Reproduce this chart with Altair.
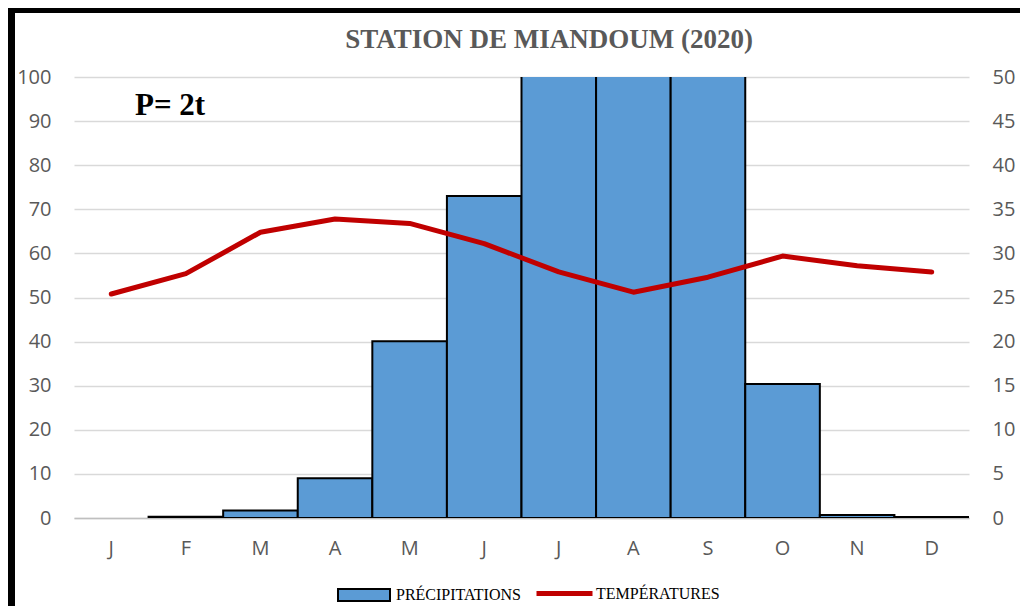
import altair as alt
import pandas as pd

# ---- data ----
mois = ["Janvier", "Février", "Mars", "Avril", "Mai", "Juin", "Juillet",
        "Août", "Septembre", "Octobre", "Novembre", "Décembre"]
precipitations = [0, 0.3, 1.7, 9.0, 40.1, 73.0, 180, 250, 160, 30.4, 0.7, 0.2]
temperatures = [25.4, 27.7, 32.4, 33.9, 33.4, 31.1, 27.9, 25.6, 27.3, 29.7, 28.6, 27.9]
titre = "STATION DE MIANDOUM (2020)"
annotation = "P= 2t"
serie_p = "PRÉCIPITATIONS"
serie_t = "TEMPÉRATURES"
ticks_p = list(range(0, 101, 10))
ticks_t = list(range(0, 51, 5))

df = pd.DataFrame({"mois": mois, "P": precipitations, "T": temperatures,
                   "sp": [serie_p] * 12, "st": [serie_t] * 12})

GRAY = "#595959"
AXFONT = "Open Sans"
SERIF = "Liberation Serif"

x_enc = alt.X(
    "mois:N", sort=mois,
    scale=alt.Scale(paddingInner=0, paddingOuter=0),
    axis=alt.Axis(title=None, labelExpr="substring(datum.label, 0, 1)", labelAngle=0,
                  ticks=False, domain=True, domainColor="#BFBFBF", domainWidth=1.5,
                  grid=False, labelPadding=20, labelFont=AXFONT, labelFontSize=20,
                  labelColor=GRAY),
)

bars = alt.Chart(df).transform_filter("datum.P > 0").mark_bar(
    stroke="black", strokeWidth=2, clip=True
).encode(
    x=x_enc,
    y=alt.Y("P:Q", scale=alt.Scale(domain=[0, 100], nice=False),
            axis=alt.Axis(title=None, values=ticks_p, orient="left", grid=True,
                          gridColor="#D9D9D9", gridWidth=1.3, domain=False, ticks=False,
                          labelPadding=23, labelFont=AXFONT, labelFontSize=20,
                          labelColor=GRAY)),
    fill=alt.Fill("sp:N", scale=alt.Scale(range=["#5B9BD5"]),
                  legend=alt.Legend(title=None, orient="none", legendX=263, legendY=491,
                                    symbolType="M-1,-0.23H1V0.23H-1Z", symbolSize=2704,
                                    symbolStrokeColor="black", symbolStrokeWidth=2,
                                    labelFont=SERIF, labelFontSize=16, labelColor="black",
                                    labelOffset=5, padding=0)),
)

line = alt.Chart(df).mark_line(strokeWidth=5, strokeCap="round", strokeJoin="round").encode(
    x=x_enc,
    y=alt.Y("T:Q", scale=alt.Scale(domain=[0, 50], nice=False),
            axis=alt.Axis(title=None, values=ticks_t, orient="right", grid=False,
                          domain=False, ticks=False, labelPadding=23, labelFont=AXFONT,
                          labelFontSize=20, labelColor=GRAY)),
    stroke=alt.Stroke("st:N", scale=alt.Scale(range=["#C00000"]),
                      legend=alt.Legend(title=None, orient="none", legendX=460, legendY=486,
                                        symbolType="stroke", symbolSize=3136,
                                        symbolStrokeWidth=5,
                                        labelFont=SERIF, labelFontSize=16,
                                        labelColor="black", labelOffset=1, padding=0)),
)

tdf = pd.DataFrame({"t": [titre], "a": [annotation]})
title_mark = alt.Chart(tdf).mark_text(
    font=SERIF, fontSize=27, fontWeight="bold", color=GRAY, align="center",
    baseline="alphabetic"
).encode(text="t:N", x=alt.value(475), y=alt.value(-29))

annot_mark = alt.Chart(tdf).mark_text(
    font=SERIF, fontSize=31, fontWeight="bold", color="black", align="left",
    baseline="alphabetic"
).encode(text="a:N", x=alt.value(61), y=alt.value(38))

bdf = pd.DataFrame({"k": [0]})
left_border = alt.Chart(bdf).mark_rule(color="black", strokeWidth=7).encode(
    x=alt.value(-62.5), y=alt.value(-69), y2=alt.value(540))
top_border = alt.Chart(bdf).mark_rule(color="black", strokeWidth=5).encode(
    x=alt.value(-66), x2=alt.value(960), y=alt.value(-66.5))

chart = alt.layer(bars, line, title_mark, annot_mark, left_border, top_border).resolve_scale(
    y="independent"
).properties(
    width=895, height=441,
    autosize=alt.AutoSizeParams(type="none"),
    padding={"left": 66, "top": 69, "right": 51, "bottom": 88},
    background="white",
).configure_view(stroke=None)

chart.save("out.html", embed_options={"renderer": "svg", "actions": False})
